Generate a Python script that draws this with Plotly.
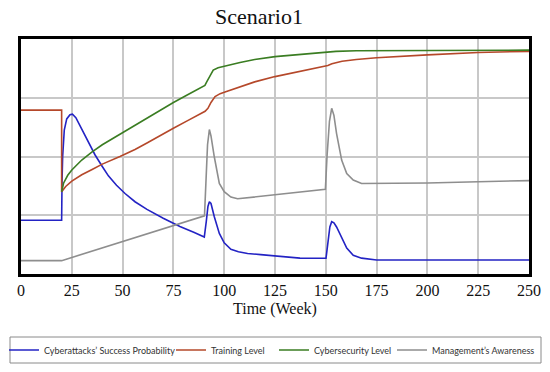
import plotly.graph_objects as go

# ---- data (y in arbitrary units 0..4) ----
blue_t = [0, 20, 20.2, 20.5, 21.3, 22.5, 24.1, 25.3, 27, 30, 33, 36.4, 40, 43, 47, 51.2, 56.1, 62, 70, 78.2, 85,
          90.2, 91.2, 92, 92.7, 93.5, 95.1, 97.6, 100, 103.3, 107, 111.5, 118, 127.5, 137.3, 150.1, 151, 152,
          152.9, 154, 155.3, 157.8, 160.3, 163.5, 167.6, 175, 200, 250]
blue_v = [0.914, 0.914, 1.6, 2.0, 2.45, 2.64, 2.71, 2.72, 2.66, 2.45, 2.25, 2.03, 1.83, 1.67, 1.51, 1.37, 1.23, 1.1,
          0.95, 0.81, 0.71, 0.63, 0.9, 1.15, 1.23, 1.2, 0.98, 0.69, 0.53, 0.42, 0.38, 0.35, 0.33, 0.306, 0.27,
          0.267, 0.5, 0.8, 0.89, 0.87, 0.80, 0.61, 0.44, 0.32, 0.27, 0.238, 0.238, 0.238]

red_t = [0, 20, 20, 22, 25, 29.9, 35, 40, 48.7, 56.1, 62, 68, 75, 82, 88.1, 90.6, 92, 93.5, 95.5, 98, 100.4,
         107.8, 115, 125, 135, 150, 151, 153, 155, 158, 165, 175, 200, 225, 250]
red_v = [2.79, 2.79, 1.40, 1.49, 1.58, 1.69, 1.78, 1.87, 2.00, 2.12, 2.23, 2.35, 2.48, 2.61, 2.72, 2.77, 2.82,
         2.92, 3.02, 3.07, 3.10, 3.19, 3.27, 3.36, 3.43, 3.53, 3.55, 3.58, 3.60, 3.62, 3.65, 3.68, 3.73, 3.77, 3.79]

green_t = [20, 21, 23, 25, 29.9, 35, 40, 46.3, 50, 56.1, 62, 68.4, 75, 82, 88.1, 90.5, 91.4, 93, 94.6, 97,
           100.4, 107.8, 115, 125, 135, 150, 152, 155, 165, 175, 200, 225, 250]
green_v = [1.40, 1.55, 1.68, 1.77, 1.94, 2.08, 2.20, 2.33, 2.40, 2.53, 2.64, 2.78, 2.92, 3.05, 3.16, 3.21, 3.27,
           3.38, 3.47, 3.51, 3.54, 3.60, 3.65, 3.70, 3.73, 3.77, 3.78, 3.79, 3.80, 3.80, 3.81, 3.81, 3.81]

gray_t = [0, 20, 90.3, 91, 91.8, 92.7, 93.5, 95.1, 97.6, 100, 103.3, 106.6, 115, 127.5, 137.3, 149.8, 150.6,
          151.8, 152.9, 154, 155.3, 157.8, 160.3, 163.5, 167.6, 186.6, 200, 225, 250]
gray_v = [0.227, 0.227, 0.99, 1.5, 2.2, 2.46, 2.35, 2.0, 1.54, 1.40, 1.31, 1.28, 1.31, 1.36, 1.40, 1.44, 2.0,
          2.6, 2.82, 2.7, 2.39, 1.94, 1.71, 1.60, 1.54, 1.54, 1.55, 1.57, 1.59]

names = ["Cyberattacks’ Success Probability", "Training Level", "Cybersecurity Level", "Management’s Awareness"]
colors = ["#2323c4", "#b5482a", "#3a7d22", "#8e8e8e"]
x_ticks = [0, 25, 50, 75, 100, 125, 150, 175, 200, 225, 250]

# layout geometry (pixels)
W, H = 550, 372
L, R, T, B = 21, 21, 39, 98
PW, PH = W - L - R, H - T - B


def px(xp):
    return (xp - L) / PW


def py(yp):
    return (H - B - yp) / PH


legend_ids = ["legend", "legend2", "legend3", "legend4"]
legend_x_px = [4, 171, 274, 392]

fig = go.Figure()
for t, v, n, c, lg in zip([blue_t, red_t, green_t, gray_t], [blue_v, red_v, green_v, gray_v], names, colors,
                          legend_ids):
    fig.add_trace(go.Scatter(x=t, y=v, mode="lines", name=n, line=dict(color=c, width=1.6), legend=lg))

legend_common = dict(orientation="h", xanchor="left", yanchor="middle", y=py(350),
                     bgcolor="rgba(0,0,0,0)", borderwidth=0,
                     font=dict(family="Lato", size=9, color="#333"), itemwidth=30)
layout_legends = {}
for lg, lx in zip(legend_ids, legend_x_px):
    layout_legends[lg] = dict(legend_common, x=px(lx))

fig.update_layout(
    width=W, height=H,
    margin=dict(l=L, r=R, t=T, b=B, autoexpand=False),
    plot_bgcolor="white", paper_bgcolor="white",
    showlegend=True,
    **layout_legends,
)
fig.update_xaxes(range=[0, 250], tickvals=x_ticks, ticktext=[str(v) for v in x_ticks],
                 showgrid=True, gridcolor="#c8c8c8", gridwidth=1.5,
                 showline=True, linecolor="black", linewidth=2.5, mirror=True,
                 ticks="outside", ticklen=0, tickcolor="rgba(0,0,0,0)",
                 tickfont=dict(family="Liberation Serif", size=16, color="#111"), zeroline=False)
fig.update_yaxes(range=[0, 4], dtick=1, showticklabels=False,
                 showgrid=True, gridcolor="#c8c8c8", gridwidth=1.5,
                 showline=True, linecolor="black", linewidth=2.5, mirror=True, zeroline=False)

# legend frame
fig.add_shape(type="rect", xref="paper", yref="paper", x0=px(10), x1=px(541), y0=py(337), y1=py(363),
              line=dict(color="#8a8a8a", width=1), fillcolor="rgba(0,0,0,0)", layer="above")

fig.add_annotation(text="Scenario1", xref="paper", yref="paper", x=px(259), y=py(16.5),
                   xanchor="center", yanchor="middle", showarrow=False,
                   font=dict(family="Liberation Serif", size=22, color="#111"))
fig.add_annotation(text="Time (Week)", xref="paper", yref="paper", x=px(275), y=py(309),
                   xanchor="center", yanchor="middle", showarrow=False,
                   font=dict(family="Liberation Serif", size=16, color="#111"))

fig.write_html("out.html", config={"displayModeBar": False},
               post_script="document.body.style.margin='0';document.body.style.overflow='hidden';")
